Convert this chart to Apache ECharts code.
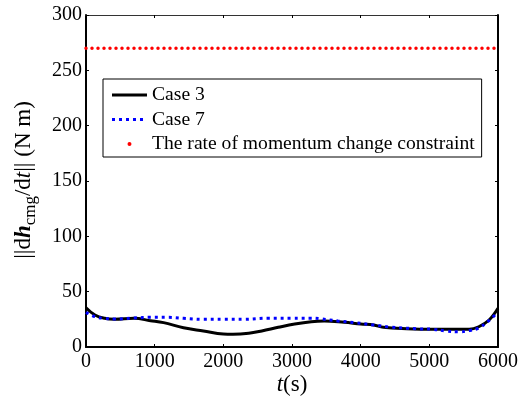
<!DOCTYPE html>
<html>
<head>
<meta charset="utf-8">
<script src="https://cdn.jsdelivr.net/npm/echarts@6/dist/echarts.min.js"></script>
<style>html,body{margin:0;padding:0;background:#fff}#c{width:521px;height:399px}</style>
</head>
<body>
<div id="c"></div>
<script>
var xTicks = [0, 1000, 2000, 3000, 4000, 5000, 6000];
var yTicks = [0, 50, 100, 150, 200, 250, 300];
var case3Time = [0,130,270,415,700,940,1130,1420,1710,2000,2140,2370,2560,2800,3040,3280,3470,3760,4000,4190,4330,4670,5050,5580,5720,5870,6000];
var case3Value = [35.5,28.9,25.9,25,25.9,23.8,22,17.4,14.5,11.7,11.5,12.4,14.5,17.8,20.8,22.9,23.5,22.3,20.8,19.9,17.8,16.5,16,16,18.3,24.4,35];
var case7Time = [0,130,270,415,700,940,1200,1420,1700,2000,2300,2650,3000,3280,3400,3670,3910,4190,4430,4810,5050,5240,5440,5580,5720,5850,6000];
var case7Value = [31.3,27.4,25.9,25.3,26.2,26.8,26.8,25.9,25,25,25,26,26,26,25.6,23.5,22,19.9,18,16.5,16,14.5,13.8,14.8,17.2,23,31.5];
var constraintTime = [0, 6000];
var constraintValue = [270, 270];
var seriesNames = ['Case 3', 'Case 7', 'The rate of momentum change constraint'];

function pairs(a, b) { return a.map(function (v, i) { return [v, b[i]]; }); }

var font = 'Liberation Serif';
var chart = echarts.init(document.getElementById('c'), null, {renderer: 'canvas'});
function axis(extra, lineW, lineColor) {
  return Object.assign({
    type: 'value',
    axisLine: {show: true, onZero: false, lineStyle: {color: lineColor || '#000', width: lineW || 2}},
    axisTick: {show: true, inside: true, length: 3, lineStyle: {color: '#000', width: 1}},
    splitLine: {show: false}
  }, extra);
}
var labelStyle = {color: '#000', fontFamily: font, fontSize: 20, formatter: function (v) { return String(v); }};
// legend icon paths (bounding box 35x14 kept by invisible corner points)
var solidIcon = 'path://M0,0L0.01,0M35,14L35.01,14M0,5.5L35,5.5L35,8.5L0,8.5Z';
var dotIcon = 'path://M0,0L0.01,0M35,14L35.01,14M0,5.5h3v3h-3zM7,5.5h3v3h-3zM14,5.5h3v3h-3zM21,5.5h3v3h-3zM28,5.5h3v3h-3z';
var redDotIcon = 'path://M0,0L0.01,0M35,14L35.01,14M15.5,7A2,2,0,1,0,19.5,7A2,2,0,1,0,15.5,7Z';
chart.setOption({
  animation: false,
  backgroundColor: '#fff',
  grid: {left: 86, right: 18, top: 15, bottom: 52},
  xAxis: [
    axis({min: xTicks[0], max: xTicks[xTicks.length - 1], interval: 1000, position: 'bottom',
      axisLabel: Object.assign({margin: 5}, labelStyle)}),
    axis({min: xTicks[0], max: xTicks[xTicks.length - 1], interval: 1000, position: 'top',
      axisLabel: {show: false}}, 1.2, '#333')
  ],
  yAxis: [
    axis({min: yTicks[0], max: yTicks[yTicks.length - 1], interval: 50, position: 'left',
      axisLabel: Object.assign({margin: 4}, labelStyle)}),
    axis({min: yTicks[0], max: yTicks[yTicks.length - 1], interval: 50, position: 'right',
      axisLabel: {show: false}})
  ],
  legend: {
    orient: 'vertical', left: 103, top: 79,
    backgroundColor: '#fff', borderColor: '#000', borderWidth: 1,
    padding: [6, 7, 3, 9], itemGap: 4.5, itemWidth: 35, itemHeight: 14,
    textStyle: {color: '#000', fontFamily: font, fontSize: 19.6},
    data: [
      {name: seriesNames[0], icon: solidIcon, itemStyle: {color: '#000'}},
      {name: seriesNames[1], icon: dotIcon, itemStyle: {color: '#0000ff'}},
      {name: seriesNames[2], icon: redDotIcon, itemStyle: {color: '#ff0000'}}
    ]
  },
  graphic: [
    {type: 'text', x: 24, y: 180, rotation: Math.PI / 2,
      style: {
        text: '{n|||d}{b|h}{s|cmg}{n|/d}{i|t}{n||| (N m)}',
        align: 'center', verticalAlign: 'middle',
        rich: {
          n: {fontFamily: font, fontSize: 23, fill: '#000'},
          b: {fontFamily: font, fontSize: 23, fontWeight: 'bold', fontStyle: 'italic', fill: '#000'},
          i: {fontFamily: font, fontSize: 23, fontStyle: 'italic', fill: '#000'},
          s: {fontFamily: font, fontSize: 17, fill: '#000', padding: [14, 0, 0, 0]}
        }
      }},
    {type: 'text', x: 292, y: 385,
      style: {
        text: '{i|t}{n|(s)}', align: 'center', verticalAlign: 'middle',
        rich: {
          n: {fontFamily: font, fontSize: 23, fill: '#000'},
          i: {fontFamily: font, fontSize: 23, fontStyle: 'italic', fill: '#000'}
        }
      }}
  ],
  series: [
    {name: seriesNames[0], type: 'line', data: pairs(case3Time, case3Value), smooth: 0.4, symbol: 'none',
      lineStyle: {color: '#000', width: 3}, itemStyle: {color: '#000'}, z: 3},
    {name: seriesNames[1], type: 'line', data: pairs(case7Time, case7Value), smooth: 0.4, symbol: 'none',
      lineStyle: {color: '#0000ff', width: 3, type: [3, 4]}, itemStyle: {color: '#0000ff'}, z: 4},
    {name: seriesNames[2], type: 'line', data: pairs(constraintTime, constraintValue), symbol: 'none',
      lineStyle: {color: '#ff0000', width: 3.5, type: [0, 6], cap: 'round'}, itemStyle: {color: '#ff0000'}, z: 2}
  ]
});
</script>
</body>
</html>
